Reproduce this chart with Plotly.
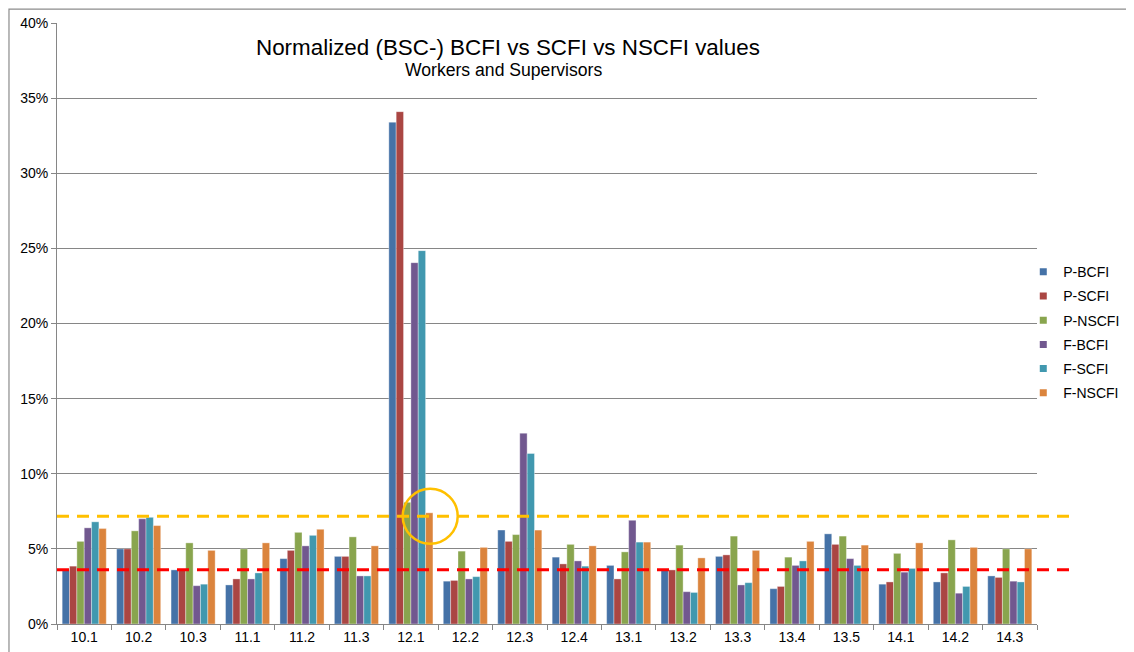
import plotly.graph_objects as go

# categories and series (values in percent)
categories = ['10.1', '10.2', '10.3', '11.1', '11.2', '11.3', '12.1', '12.2', '12.3',
              '12.4', '13.1', '13.2', '13.3', '13.4', '13.5', '14.1', '14.2', '14.3']

p_bcfi = [3.6, 5.0, 3.6, 2.6, 4.35, 4.5, 33.4, 2.85, 6.25, 4.45, 3.9, 3.6, 4.5, 2.35, 6.0, 2.65, 2.8, 3.2]
p_scfi = [3.85, 5.0, 3.6, 3.0, 4.9, 4.5, 34.1, 2.9, 5.5, 4.0, 3.0, 3.6, 4.6, 2.5, 5.3, 2.8, 3.4, 3.1]
p_nscfi = [5.5, 6.2, 5.4, 5.0, 6.1, 5.8, 8.1, 4.85, 5.95, 5.3, 4.8, 5.25, 5.85, 4.45, 5.85, 4.7, 5.6, 5.0]
f_bcfi = [6.4, 7.0, 2.55, 3.0, 5.2, 3.2, 24.05, 3.0, 12.7, 4.2, 6.9, 2.15, 2.6, 3.9, 4.35, 3.45, 2.05, 2.85]
f_scfi = [6.8, 7.1, 2.65, 3.4, 5.9, 3.2, 24.85, 3.15, 11.35, 3.85, 5.45, 2.1, 2.75, 4.2, 3.9, 3.7, 2.5, 2.8]
f_nscfi = [6.35, 6.55, 4.9, 5.4, 6.3, 5.2, 7.4, 5.1, 6.25, 5.2, 5.45, 4.4, 4.9, 5.5, 5.25, 5.4, 5.1, 5.0]

series_names = ['P-BCFI', 'P-SCFI', 'P-NSCFI', 'F-BCFI', 'F-SCFI', 'F-NSCFI']
series_values = [p_bcfi, p_scfi, p_nscfi, f_bcfi, f_scfi, f_nscfi]
colors = ['#4572A7', '#AA4643', '#89A54E', '#71588F', '#4198AF', '#DB843D']

y_ticks = [0, 5, 10, 15, 20, 25, 30, 35, 40]
y_tick_labels = [f'{v}%' for v in y_ticks]

red_level = 3.61
yellow_level = 7.17

fig = go.Figure()

for i, (name, vals) in enumerate(zip(series_names, series_values)):
    fig.add_trace(go.Bar(
        x=categories,
        y=vals,
        name=name,
        showlegend=False,
        marker=dict(color=colors[i], line=dict(color='rgba(255,255,255,0.6)', width=0.6))
    ))

# legend entries with small square swatches
for i, name in enumerate(series_names):
    fig.add_trace(go.Scatter(
        x=[None], y=[None], mode='markers', name=name, legendgroup=name,
        marker=dict(symbol='square', size=7, color=colors[i])
    ))

# dashed reference lines, running a bit past the plot area
fig.add_shape(type='line', xref='paper', yref='y', x0=0, x1=1.033, y0=yellow_level, y1=yellow_level,
              line=dict(color='#FFC000', width=3, dash='12px,8px'))
fig.add_shape(type='line', xref='paper', yref='y', x0=0, x1=1.033, y0=red_level, y1=red_level,
              line=dict(color='#FF0000', width=3, dash='12px,8px'))

# highlight circle around 12.1
fig.add_shape(type='circle', xref='x', yref='y', x0=5.85, x1=6.86, y0=5.34, y1=9.0,
              line=dict(color='#FFC000', width=2.5))

# outer chart frame (only top and left edges visible)
fig.add_shape(type='rect', xref='paper', yref='paper', x0=-0.049, x1=2.0, y0=-0.5, y1=1.023,
              line=dict(color='#8C8C8C', width=1.2), layer='below')

fig.add_annotation(text='Normalized (BSC-) BCFI vs SCFI vs NSCFI values', xref='paper', yref='paper',
                   x=0.4597, y=0.960, yanchor='middle', showarrow=False,
                   font=dict(size=22.4, color='#000000'))
fig.add_annotation(text='Workers and Supervisors', xref='paper', yref='paper',
                   x=0.4556, y=0.922, yanchor='middle', showarrow=False,
                   font=dict(size=17.6, color='#000000'))

fig.update_layout(
    width=1126, height=644,
    margin=dict(l=49, r=97, t=15, b=28, autoexpand=False),
    paper_bgcolor='white', plot_bgcolor='white',
    font=dict(family='Liberation Sans, Arial, sans-serif', size=14, color='#000000'),
    barmode='group', bargap=0.19, bargroupgap=0,
    legend=dict(x=0.986, xanchor='left', y=0.612, yanchor='top', tracegroupgap=3,
                itemwidth=30, font=dict(size=14), bgcolor='rgba(0,0,0,0)'),
    showlegend=True,
)
fig.update_xaxes(type='category', showline=True, linecolor='#868686', linewidth=1,
                 ticks='outside', tickson='boundaries', ticklen=5, tickcolor='#868686',
                 showgrid=False, tickfont=dict(size=14))
fig.update_yaxes(range=[0, 40], tickvals=y_ticks, ticktext=y_tick_labels,
                 showline=True, linecolor='#868686', linewidth=1, ticks='outside', ticklen=5,
                 tickcolor='#868686', showgrid=True, gridcolor='#868686', gridwidth=1,
                 zeroline=False, tickfont=dict(size=14))

fig.write_html('out.html')
